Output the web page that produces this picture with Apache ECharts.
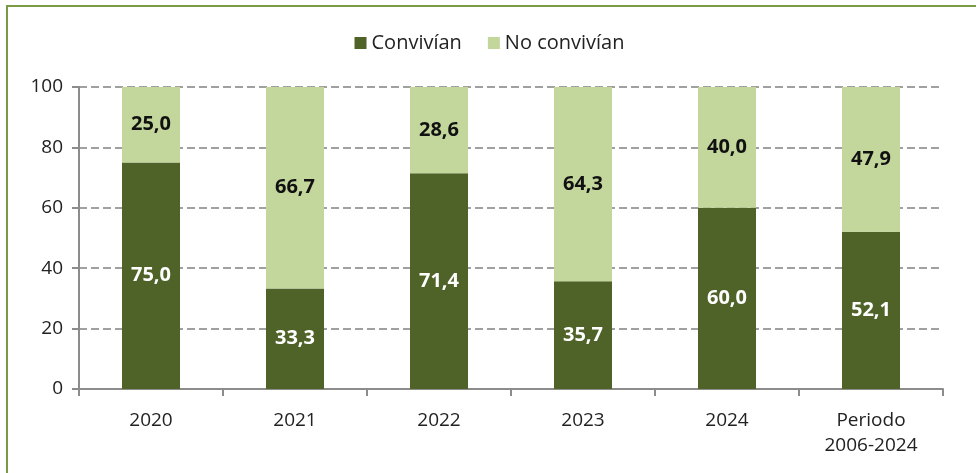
<!DOCTYPE html>
<html lang="es">
<head>
<meta charset="UTF-8">
<title>Convivían / No convivían</title>
<script src="https://cdn.jsdelivr.net/npm/echarts@6/dist/echarts.min.js"></script>
<style>
    body { margin: 0; background: #fff; }
    #wrap { position: relative; width: 979px; height: 473px; overflow: hidden; }
    #main { width: 979px; height: 473px; }
    #frame {
        position: absolute; left: 6px; top: 5px; width: 968px; height: 480px;
        border-top: 2px solid #7a9a45; border-left: 2px solid #7a9a45;
        pointer-events: none;
    }
</style>
</head>
<body>
<div id="wrap">
    <div id="main"></div>
    <div id="frame"></div>
</div>
<script>
    const categories = ['2020', '2021', '2022', '2023', '2024', 'Periodo\n2006-2024'];
    const convivian = [75.0, 33.3, 71.4, 35.7, 60.0, 52.1];
    const noConvivian = [25.0, 66.7, 28.6, 64.3, 40.0, 47.9];
    const yTicks = [0, 20, 40, 60, 80, 100];

    const font = '"Open Sans", "Noto Sans", sans-serif';
    const fmt = p => p.value.toFixed(1).replace('.', ',');

    const chart = echarts.init(document.getElementById('main'));

    chart.setOption({
        animation: false,
        textStyle: { fontFamily: font },
        legend: {
            top: 28,
            left: 'center',
            itemWidth: 12,
            itemHeight: 12,
            itemGap: 26,
            icon: 'rect',
            textStyle: { fontSize: 20, color: '#222', fontFamily: font },
            data: ['Convivían', 'No convivían']
        },
        grid: { left: 79, right: 36, top: 87, bottom: 84 },
        xAxis: {
            type: 'category',
            data: categories,
            axisLine: { lineStyle: { color: '#8c8c8c', width: 2 } },
            axisTick: { show: true, length: 7, lineStyle: { color: '#8c8c8c', width: 2 } },
            axisLabel: { margin: 19, fontSize: 19, color: '#222', lineHeight: 25, fontFamily: font }
        },
        yAxis: {
            type: 'value',
            min: yTicks[0],
            max: yTicks[yTicks.length - 1],
            interval: 20,
            axisLine: { show: true, lineStyle: { color: '#8c8c8c', width: 2 } },
            axisTick: { show: true, length: 7, lineStyle: { color: '#8c8c8c', width: 2 } },
            axisLabel: { margin: 16, fontSize: 19, color: '#222', fontFamily: font },
            splitLine: { lineStyle: { color: '#a0a0a0', type: [8, 4], width: 2 } }
        },
        series: [
            {
                name: 'Convivían',
                type: 'bar',
                stack: 'total',
                barWidth: 58,
                data: convivian,
                itemStyle: { color: '#4f6228' },
                label: {
                    show: true, position: 'inside', formatter: fmt,
                    color: '#fff', fontSize: 20, fontWeight: 'bold', fontFamily: font
                }
            },
            {
                name: 'No convivían',
                type: 'bar',
                stack: 'total',
                barWidth: 58,
                data: noConvivian,
                itemStyle: { color: '#c3d69b' },
                label: {
                    show: true, position: 'inside', formatter: fmt,
                    color: '#111', fontSize: 20, fontWeight: 'bold', fontFamily: font
                }
            }
        ]
    });
</script>
</body>
</html>
